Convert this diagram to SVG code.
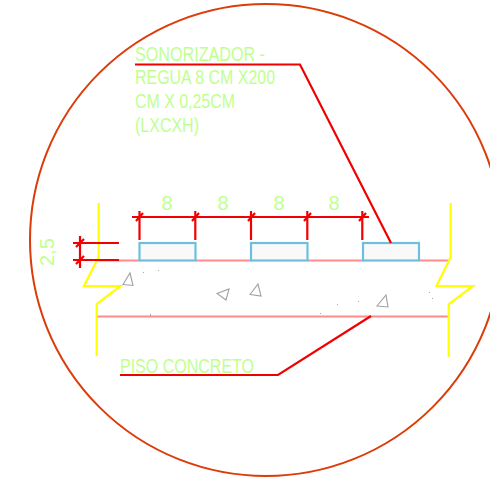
<svg xmlns="http://www.w3.org/2000/svg" width="490" height="478" viewBox="0 0 490 478">
<style>
.t{font-family:"Liberation Sans",Arial,sans-serif;font-size:20px;fill:#bfff90}
.n{font-family:"Liberation Sans",Arial,sans-serif;font-size:20px;fill:#bfff90}
.r{fill:none;stroke:#f00000;stroke-width:2.200}
.y{fill:none;stroke:#ffff00;stroke-width:2.200}
.p{fill:none;stroke:#ff8c8c;stroke-width:2.200}
.b{fill:#f9f9f9;stroke:#6cc0de;stroke-width:2.200}
.g{fill:none;stroke:#a0a0a0;stroke-width:1.100}
.d{fill:#a8a8a8}
</style>
<rect width="490" height="478" fill="#fff"/>
<g id="circle"><circle cx="266" cy="240" r="236" fill="none" stroke="#dc3c0a" stroke-width="2"/></g>
<g id="slab">
<path class="p" d="M98 260.500H139M196 260.500H251M308 260.500H363M420 260.500H450M97 316.500H449"/>
<path class="y" d="M98.700 203V257L84 286H120.500L96.700 304V356"/>
<path class="y" d="M450.700 203V257L436.500 286H473L448.700 304.300V357"/>
<path class="g" d="M123 284.500L133 285.500L130 273ZM217 293.500L229 289L226 300ZM250 294.500L261 296L258 284ZM377 306L388 307L386 295Z"/>
<path class="d" d="M143 272h1v1h-1zM158 270h1v1h-1zM150 314h1v2h-1zM320 313h1v1h-1zM337 304h1v1h-1zM358 301h1v1h-1zM429 292h1v1h-1zM432 298h1v1h-1z"/>
</g>
<g id="regua-1"><rect class="b" x="139.500" y="243" width="56" height="17.500"/></g>
<g id="regua-2"><rect class="b" x="251" y="243" width="56.500" height="17.500"/></g>
<g id="regua-3"><rect class="b" x="363" y="243" width="56" height="17.500"/></g>
<g id="connectors">
<path class="r" d="M132 217H369M139.500 211V240M195.300 211V240M251 211V240M307.300 211V240M362.300 211V240"/>
<path class="r" d="M136 221L143 213M192 221L199 213M248 221L255 213M304 221L311 213M359 221L366 213"/>
<path class="r" d="M73 243H119M73 260H119M80 236V268M76 247L84 239M76 264L84 256"/>
<path class="r" d="M135 64.500H300L391 243"/>
<path class="r" d="M120 375H278L371 316"/>
</g>
<g id="labels">
<text class="t" x="135" y="61" textLength="130" lengthAdjust="spacingAndGlyphs">SONORIZADOR -</text>
<text class="t" x="135" y="84.300" textLength="140" lengthAdjust="spacingAndGlyphs">REGUA 8 CM X200</text>
<text class="t" x="135" y="108" textLength="100" lengthAdjust="spacingAndGlyphs">CM X 0,25CM</text>
<text class="t" x="135" y="132" textLength="64" lengthAdjust="spacingAndGlyphs">(LXCXH)</text>
<text class="n" x="167" y="210" text-anchor="middle">8</text>
<text class="n" x="223" y="210" text-anchor="middle">8</text>
<text class="n" x="279" y="210" text-anchor="middle">8</text>
<text class="n" x="334" y="210" text-anchor="middle">8</text>
<text class="n" transform="translate(54 266) rotate(-90)">2,5</text>
<text class="t" x="120" y="373" textLength="134" lengthAdjust="spacingAndGlyphs">PISO CONCRETO</text>
</g>
</svg>
